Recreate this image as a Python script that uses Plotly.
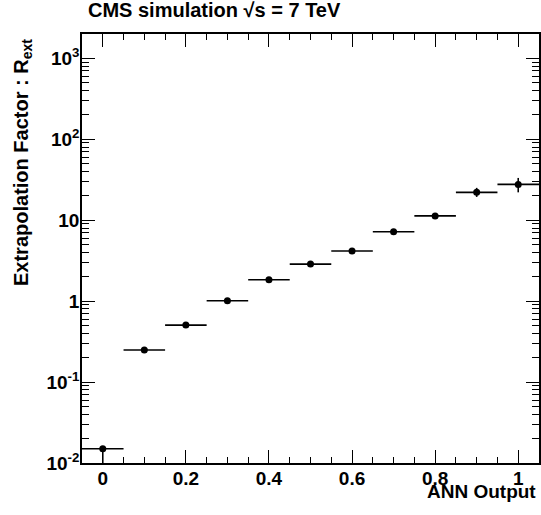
import plotly.graph_objects as go

ann_output = [0.0, 0.1, 0.2, 0.3, 0.4, 0.5, 0.6, 0.7, 0.8, 0.9, 1.0]
r_ext = [0.015, 0.249, 0.506, 1.01, 1.84, 2.87, 4.16, 7.21, 11.3, 22.1, 27.7]
r_err_up = [0.001, 0.005, 0.008, 0.015, 0.03, 0.05, 0.08, 0.15, 0.4, 3.0, 5.6]
r_err_down = [0.0075, 0.005, 0.008, 0.015, 0.03, 0.05, 0.08, 0.15, 0.4, 2.7, 5.6]
bin_half_width = [0.05] * len(ann_output)

x_tick_vals = [0, 0.2, 0.4, 0.6, 0.8, 1.0]
x_tick_text = ["0", "0.2", "0.4", "0.6", "0.8", "1"]
y_tick_vals = [0.01, 0.1, 1, 10, 100, 1000]
y_tick_text = ["10<sup>-2</sup>", "10<sup>-1</sup>", "1", "10", "10<sup>2</sup>", "10<sup>3</sup>"]

FONT = "Liberation Sans, Arial, Helvetica, sans-serif"

minor_y = [k * 10.0 ** e for e in range(-2, 4) for k in range(2, 10) if k * 10.0 ** e < 2000]

fig = go.Figure()
fig.add_trace(go.Scatter(
    x=ann_output, y=r_ext, mode="markers",
    marker=dict(color="black", size=7, symbol="circle"),
    error_x=dict(type="data", array=bin_half_width, color="black", thickness=1.6, width=0),
    error_y=dict(type="data", array=r_err_up, arrayminus=r_err_down, symmetric=False,
                 color="black", thickness=1.6, width=0),
    showlegend=False, cliponaxis=True,
))

axis_common = dict(
    showline=True, linecolor="black", linewidth=1.5, mirror="ticks",
    ticks="inside", tickcolor="black", tickwidth=1, ticklen=13,
    showgrid=False, zeroline=False, automargin=False,
    tickfont=dict(family=FONT, size=19, color="black", weight="bold"),
)

fig.update_xaxes(
    range=[-0.05, 1.05], tickmode="array", tickvals=x_tick_vals, ticktext=x_tick_text,
    minor=dict(dtick=0.05, tick0=0, ticks="inside", ticklen=6, tickcolor="black", tickwidth=1),
    ticklabelstandoff=-3,
    **axis_common,
)
fig.update_yaxes(
    type="log", range=[-2, 3.301], tickmode="array", tickvals=y_tick_vals, ticktext=y_tick_text,
    minor=dict(tickmode="array", tickvals=minor_y, ticks="inside", ticklen=7, tickcolor="black", tickwidth=1),
    ticklabelstandoff=-3,
    **axis_common,
)

fig.add_annotation(
    text="CMS simulation \u221As = 7 TeV", xref="paper", yref="paper",
    x=0, y=1.0, xanchor="left", yanchor="middle", yshift=24, xshift=4, showarrow=False,
    font=dict(family=FONT, size=20, color="black", weight="bold"),
)
fig.add_annotation(
    text="ANN Output", xref="paper", yref="paper",
    x=1.0, y=0, xanchor="right", yanchor="middle", yshift=-28, xshift=-1, showarrow=False,
    font=dict(family=FONT, size=19, color="black", weight="bold"),
)
fig.add_annotation(
    text="Extrapolation Factor : R<sub>ext</sub>", xref="paper", yref="paper",
    x=0, y=1.0, xanchor="left", yanchor="top", xshift=-74, yshift=-3, textangle=-90,
    showarrow=False,
    font=dict(family=FONT, size=20, color="black", weight="bold"),
)

fig.update_layout(
    width=541, height=515,
    margin=dict(l=82, r=2, t=34, b=52, pad=0),
    paper_bgcolor="white", plot_bgcolor="white",
    font=dict(family=FONT, color="black"),
)

fig.write_html(
    "out.html",
    config={"displayModeBar": False},
    post_script="document.body.style.margin='0';document.body.style.overflow='hidden';",
)
